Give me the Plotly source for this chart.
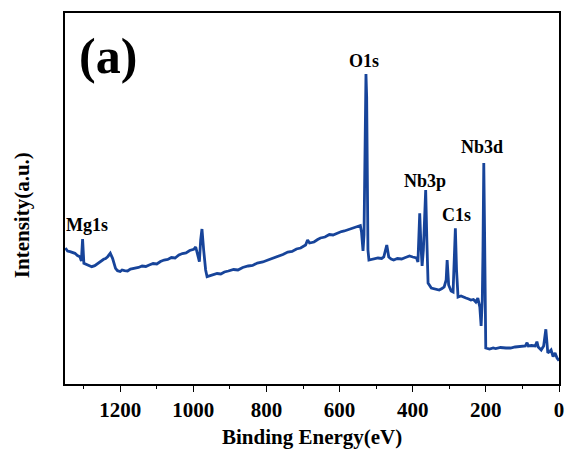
import plotly.graph_objects as go

# Binding energy (eV) and intensity (a.u.)
binding_energy = [
    1350, 1344, 1337.3, 1330, 1323.8, 1317, 1310.2, 1306.2, 1302.9, 1299.4,
    1294, 1288.6, 1283, 1277.8, 1269.6, 1262, 1256.1, 1250, 1245.3, 1240,
    1234.4, 1227.1, 1220.9, 1212.8, 1207.4, 1200, 1195, 1188.4, 1180, 1172,
    1161.3, 1150, 1140, 1130, 1120.7, 1110, 1100, 1090, 1080.1, 1070,
    1060, 1050, 1039.5, 1030, 1020, 1010, 998.9, 993.5, 988.1, 983.5,
    980.0, 976.4, 971.8, 966.4, 962.4, 955, 944.8, 935, 925, 915,
    904.2, 890, 878, 865, 850.0, 838, 825, 810, 795.9, 783,
    770, 755, 741.7, 730, 718, 706.6, 693.0, 687.6, 682.2, 670,
    660, 652.4, 640, 628, 618, 606.4, 595, 587, 579.3, 570,
    562, 552.2, 543.3, 540.1, 536.0, 533.3, 530.6, 527.9, 526.0, 524.4,
    522.5, 519.8, 513, 506.2, 495, 485, 479.2, 471.0, 465.6, 459,
    452.1, 442, 430.4, 420, 408.8, 400, 389.8, 385.8, 380.9, 377.6,
    374.4, 370.9, 364.6, 361.4, 358.1, 349.2, 340, 327.6, 320, 314.0,
    308.6, 305.9, 301.8, 295.1, 289.7, 285.6, 283.4, 280.2, 276.1, 268,
    260, 254.5, 247, 240.9, 234, 227.4, 222.0, 216.6, 213.0, 209.8,
    207.9, 205.7, 203.6, 202.2, 200.3, 190, 180, 173.3, 160, 145,
    132.6, 120, 105, 92.0, 87.4, 83.9, 75, 65.0, 60.4, 56.8,
    48.7, 42.0, 36.0, 30.6, 24.4, 21.7, 16.2, 10.8, 5.4, 0
]
intensity = [
    136, 133, 132.3, 131.5, 130.7, 128.5, 127.3, 123, 145, 120.7,
    120, 119, 117.8, 117.3, 118.3, 120.5, 122.3, 123.5, 124.7, 125.5,
    127.3, 130.7, 125.7, 115.7, 113.3, 112.5, 114, 113.3, 113, 115,
    115.7, 116.5, 118, 117.5, 119, 120.5, 120, 122.5, 124, 124.5,
    126.5, 126, 129, 130.5, 131, 133.5, 134.7, 137, 129, 122.3,
    144, 155, 134, 114, 107.3, 108, 109, 110.5, 110, 112,
    113, 114.5, 114, 116.5, 118, 118.5, 121, 122, 124, 125.5,
    127, 129.5, 132, 132.5, 135, 136, 139, 144, 141, 142,
    144.5, 146, 147, 149.5, 149, 151, 152.5, 153, 154, 155.5,
    156, 158, 158.5, 152, 133, 149, 234, 310, 287, 234,
    134, 124, 124.5, 125, 126, 125.5, 127, 139, 127, 125,
    124, 125.5, 125, 126.5, 128, 127, 126, 122, 170.7, 139,
    118, 134, 194, 144, 101, 96, 95, 94, 95.5, 97,
    104, 124, 99, 93, 92, 124, 155.7, 114, 87, 88,
    86.5, 86, 85, 84, 84.5, 82, 86, 77, 58, 84,
    134, 221, 154, 54, 36, 35, 36, 35.5, 36.5, 36,
    36, 37, 37.5, 38, 41.3, 38, 38.5, 38, 42.3, 37,
    34, 38, 54.7, 31, 33, 34, 27.3, 31, 26, 23.3
]

tick_values = [1200, 1000, 800, 600, 400, 200, 0]
tick_labels = ["1200", "1000", "800", "600", "400", "200", "0"]

peak_names = ["O1s", "Nb3d", "Nb3p", "C1s", "Mg1s"]
peak_label_x = [533.3, 211.2, 365.5, 281.5, 1291.3]
peak_label_y = [323, 237, 203, 169, 159]

serif = "Liberation Serif"
line_color = "#17449a"

fig = go.Figure()
fig.add_trace(go.Scatter(
    x=binding_energy, y=intensity, mode="lines",
    line=dict(color=line_color, width=2.8),
    showlegend=False, hoverinfo="skip",
))

for name, px, py in zip(peak_names, peak_label_x, peak_label_y):
    fig.add_annotation(
        x=px, y=py, xref="x", yref="y", text="<b>%s</b>" % name,
        showarrow=False, xanchor="center", yanchor="middle",
        font=dict(family=serif, size=18, color="black"),
    )

fig.add_annotation(
    x=0.087, y=0.885, xref="paper", yref="paper", text="<b>(a)</b>",
    showarrow=False, xanchor="center", yanchor="middle",
    font=dict(family=serif, size=50, color="black"),
)
fig.add_annotation(
    x=0.5, y=0, xref="paper", yref="paper", text="<b>Binding Energy(eV)</b>",
    showarrow=False, xanchor="center", yanchor="middle", yshift=-53,
    font=dict(family=serif, size=21, color="black"),
)
fig.add_annotation(
    x=0, y=0.455, xref="paper", yref="paper", text="<b>Intensity(a.u.)</b>",
    showarrow=False, xanchor="center", yanchor="middle", xshift=-43,
    textangle=-90,
    font=dict(family=serif, size=21, color="black"),
)

fig.update_xaxes(
    range=[1351, 0], tickvals=tick_values, ticktext=tick_labels,
    ticks="outside", ticklen=6, tickwidth=1.3, tickcolor="black",
    minor=dict(dtick=100, tick0=0, ticks="outside", ticklen=3, tickwidth=1.3, tickcolor="black"),
    showline=True, linecolor="black", linewidth=1.5, mirror=True,
    showgrid=False, zeroline=False,
    tickfont=dict(family=serif, size=21, color="black", weight="bold"),
)
fig.update_yaxes(
    range=[0, 371], showticklabels=False, ticks="",
    showline=True, linecolor="black", linewidth=1.5, mirror=True,
    showgrid=False, zeroline=False,
)
fig.update_layout(
    width=575, height=455,
    margin=dict(l=65, r=11, t=13, b=71),
    paper_bgcolor="white", plot_bgcolor="white",
)
fig.write_html("out.html")
